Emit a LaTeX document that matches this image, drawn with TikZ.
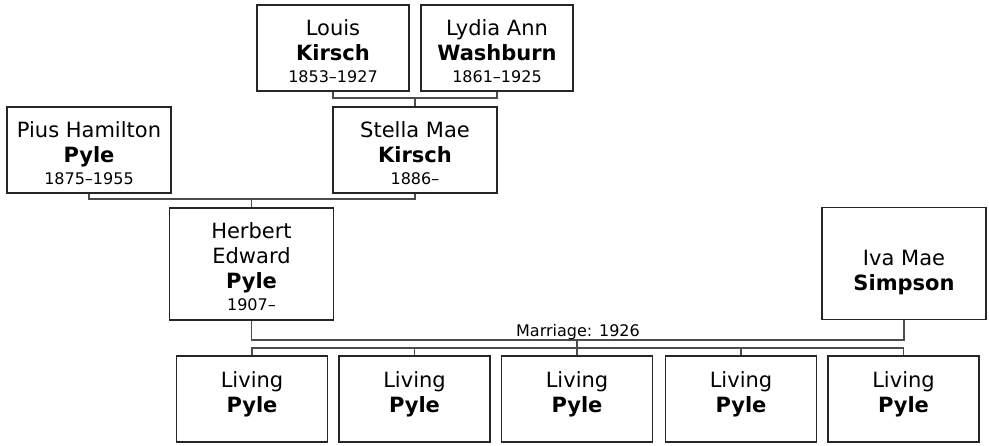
\documentclass[tikz,border=0pt]{standalone}
\usepackage{fontspec}
\setmainfont{DejaVu Sans}
\newcommand\yr[1]{\\[-3pt]{\fontsize{16}{20}\selectfont #1}}
\newcommand\person[5]{%
  \node[#2] (#1) at (#3) {};
  \node[txt] (#1-text) at ([yshift=#4]#1.center) {#5};}
\begin{document}
\begin{tikzpicture}[x=1pt,y=-1pt,
  person/.style={draw=black!85,line width=1.3pt,fill=white,inner sep=0pt},
  txt/.style={align=center,inner sep=0pt,font=\fontsize{21}{25}\selectfont},
  std/.style={person,minimum width=152pt,minimum height=86pt},
  wide/.style={person,minimum width=164pt,minimum height=86pt},
  tall/.style={person,minimum width=164pt,minimum height=112pt},
  kid/.style={person,minimum width=151pt,minimum height=86pt},
  link/.style={draw=black!70,line width=1.1pt},
  small/.style={font=\fontsize{16}{20}\selectfont}]
\useasboundingbox (0,0) rectangle (989,445);
% generation 1
\person{louis}{std}{333,48}{-3pt}{Louis\\\textbf{Kirsch}\yr{1853–1927}}
\person{lydia}{std}{497,48}{-3pt}{Lydia Ann\\\textbf{Washburn}\yr{1861–1925}}
% generation 2
\person{pius}{wide}{89,150}{-3pt}{Pius Hamilton\\\textbf{Pyle}\yr{1875–1955}}
\person{stella}{wide}{415,150}{-3pt}{Stella Mae\\\textbf{Kirsch}\yr{1886–}}
% generation 3
\person{herbert}{tall}{251.5,264}{-3pt}{Herbert\\Edward\\\textbf{Pyle}\yr{1907–}}
\person{iva}{tall}{904,263.5}{-9pt}{Iva Mae\\\textbf{Simpson}}
% children
\person{c1}{kid}{252,399}{5pt}{Living\\\textbf{Pyle}}
\person{c2}{kid}{414.5,399}{5pt}{Living\\\textbf{Pyle}}
\person{c3}{kid}{577,399}{5pt}{Living\\\textbf{Pyle}}
\person{c4}{kid}{741,399}{5pt}{Living\\\textbf{Pyle}}
\person{c5}{kid}{903.5,399}{5pt}{Living\\\textbf{Pyle}}
% connectors
\coordinate (lp) at (415,98);
\draw[link] (louis.south) |- (lp) -| (lydia.south);
\draw[link] (lp) -- (stella.north);
\coordinate (pp) at (251.5,199);
\draw[link] (pius.south) |- (pp) -| (stella.south);
\draw[link] (pp) -- (herbert.north);
\coordinate (mm) at (577,340);
\draw[link] (herbert.south) |- (mm) -| (iva.south);
\node[small,anchor=base] (mlabel) at (578,336) {Marriage: 1926};
\coordinate (cc) at (577,348);
\draw[link] (mm) -- (c3.north);
\draw[link] (c1.north) |- (cc) -| (c5.north);
\draw[link] (c2.north) -- (c2.north |- cc);
\draw[link] (c4.north) -- (c4.north |- cc);
\end{tikzpicture}
\end{document}
